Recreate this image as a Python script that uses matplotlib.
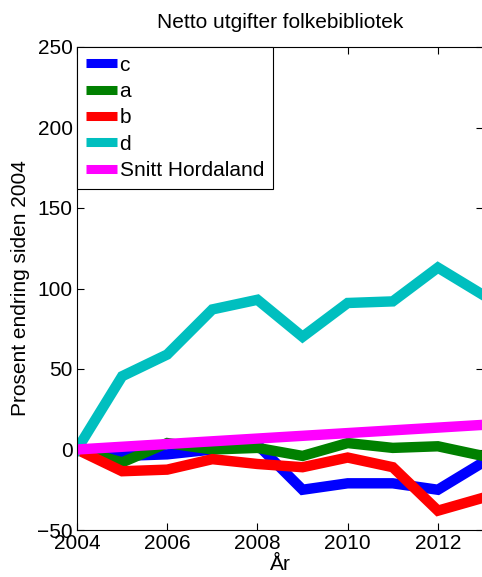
import numpy as np
import matplotlib.pyplot as plt

plt.rcParams["font.family"] = ["Liberation Sans", "DejaVu Sans"]

years = [2004, 2005, 2006, 2007, 2008, 2009, 2010, 2011, 2012, 2013]
c_vals = [0, -4, -3, 0, 3, -25, -21, -21, -25, -8]
a_vals = [0, -8, 4, 0, 1, -4, 4, 1, 2, -4]
b_vals = [0, -13.5, -12.5, -6, -9, -11, -5, -11, -38, -30]
d_vals = [0, 45.5, 59, 87, 93, 70, 91, 92, 113, 96]
snitt_vals = [0, 1.7, 3.4, 5.1, 6.8, 8.5, 10.2, 11.9, 13.6, 15.3]

series = [
    ("c", c_vals, "#0000ff"),
    ("a", a_vals, "#008000"),
    ("b", b_vals, "#ff0000"),
    ("d", d_vals, "#00bfbf"),
    ("Snitt Hordaland", snitt_vals, "#ff00ff"),
]

fig = plt.figure(figsize=(4.82, 5.77), dpi=100)
ax = fig.add_axes([77 / 482, 47 / 577, 406 / 482, 483 / 577])

for name, vals, col in series:
    ax.plot(years, vals, color=col, lw=7.5, label=name, solid_joinstyle="miter")

ax.set_xlim(2004, 2013)
ax.set_ylim(-50, 250)
ax.set_xticks([2004, 2006, 2008, 2010, 2012])
ax.set_yticks([-50, 0, 50, 100, 150, 200, 250])
ax.tick_params(direction="in", labelsize=15, length=5, top=True, right=True, pad=3)
ax.set_title("Netto utgifter folkebibliotek", fontsize=15, pad=14)
ax.set_xlabel("År", fontsize=15, labelpad=1)
ax.set_ylabel("Prosent endring siden 2004", fontsize=15, labelpad=5)

leg = ax.legend(loc="upper left", fontsize=15, handlelength=1.5, handletextpad=0.12,
                borderaxespad=0, borderpad=0.42, fancybox=False, framealpha=1,
                labelspacing=0.35)
leg.get_frame().set_edgecolor("black")
leg.get_frame().set_linewidth(0.8)
for h in leg.get_lines():
    h.set_linewidth(6.5)
    h.set_solid_capstyle("butt")

fig.savefig("out.png", dpi=100)
